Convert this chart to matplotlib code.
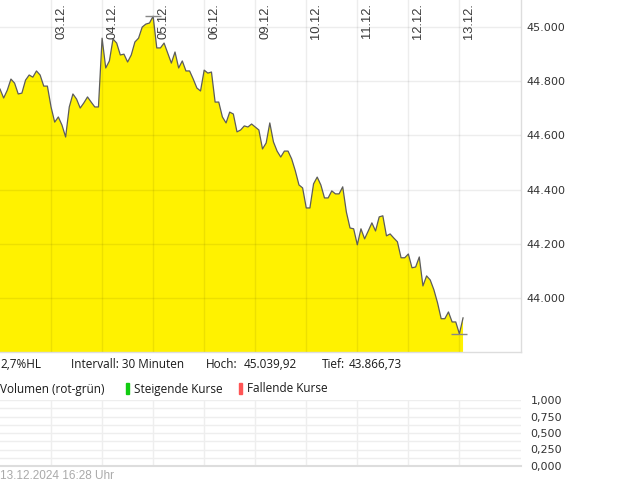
import numpy as np
import matplotlib
matplotlib.use('Agg')
import matplotlib.pyplot as plt
from matplotlib import transforms
from matplotlib.ticker import FuncFormatter, MultipleLocator

# 30-Minuten-Kurse, 14 Werte je Handelstag, ab 02.12.
kurs = [
    44771, 44738, 44767, 44808, 44793, 44753, 44756, 44804, 44823, 44815,
    44838, 44823, 44782, 44782, 44705, 44649, 44668, 44638, 44594, 44705,
    44753, 44734, 44701, 44720, 44742, 44723, 44705, 44705, 44959, 44849,
    44875, 44956, 44941, 44897, 44900, 44871, 44897, 44945, 44959, 45000,
    45011, 45015, 45040, 44923, 44923, 44941, 44904, 44867, 44908, 44849,
    44875, 44838, 44838, 44808, 44775, 44764, 44841, 44830, 44834, 44723,
    44723, 44668, 44646, 44686, 44679, 44613, 44620, 44635, 44631, 44642,
    44631, 44620, 44550, 44572, 44646, 44576, 44542, 44520, 44542, 44542,
    44513, 44469, 44417, 44406, 44332, 44332, 44421, 44446, 44417, 44369,
    44369, 44395, 44384, 44384, 44410, 44317, 44258, 44255, 44196, 44255,
    44218, 44247, 44277, 44247, 44299, 44303, 44229, 44236, 44221, 44207,
    44148, 44148, 44162, 44111, 44114, 44151, 44044, 44081, 44066, 44030,
    43982, 43923, 43923, 43948, 43911, 43911, 43867, 43926,
]
pro_tag = 14
tage = ['03.12.', '04.12.', '05.12.', '06.12.', '09.12.',
        '10.12.', '11.12.', '12.12.', '13.12.']
kurs_ticks = [44000, 44200, 44400, 44600, 44800, 45000]
vol_ticks = [0, 0.25, 0.5, 0.75, 1.0]

W, H = 620, 483
fig = plt.figure(figsize=(W / 100, H / 100), dpi=100)

def fx(px):
    return px / W

def fy(py):
    return 1 - py / H

x = np.arange(len(kurs))
tag_pos = [pro_tag * (i + 1) for i in range(len(tage))]
xmax = 521 / 3.646

# Kurschart
ax = fig.add_axes([0, fy(352), fx(521), 352 / H])
ax.fill_between(x, kurs, 43000, color='#fff200', lw=0, zorder=1)
ax.plot(x, kurs, color='#5c5c5c', lw=0.9, zorder=3)
i_hi = int(np.argmax(kurs))
i_lo = int(np.argmin(kurs))
for i in (i_hi, i_lo):
    ax.plot(x[i], kurs[i], marker='_', ms=11, mew=1, color='#888888', zorder=4)

ax.set_xlim(0, xmax)
ax.set_ylim(43800, 45100)
ax.set_yticks(kurs_ticks)
ax.set_xticks(tag_pos)
ax.set_axisbelow(False)
ax.grid(color='black', alpha=0.07, lw=1)
ax.yaxis.tick_right()
ax.yaxis.set_major_formatter(FuncFormatter(lambda v, p: f'{v:,.0f}'.replace(',', '.')))
ax.tick_params(axis='y', length=0, pad=4, labelsize=8, labelcolor='#333333')
ax.tick_params(axis='x', length=0, labelbottom=False)
for s in ['top', 'left']:
    ax.spines[s].set_visible(False)
for s in ['right', 'bottom']:
    ax.spines[s].set_color('#dddddd')
    ax.spines[s].set_linewidth(1)

trans = transforms.blended_transform_factory(ax.transData, ax.transAxes)
trans = transforms.offset_copy(trans, fig=fig, x=4, y=-3, units='dots')
for pos, lab in zip(tag_pos, tage):
    ax.text(pos, 1, lab, transform=trans, rotation=90, ha='left', va='top',
            fontsize=9.3, family='Liberation Sans', color='#3a3a3a')

# Infozeile
info = [(0, '2,7%HL'), (71, 'Intervall: 30 Minuten'), (206, 'Hoch:'),
        (244, '45.039,92'), (322, 'Tief:'), (349, '43.866,73')]
for px, t in info:
    fig.text(fx(px), fy(364), t, va='center', ha='left', fontsize=8.5,
             family='Open Sans', color='#1a1a1a')

# Legende Volumen
fig.text(0, fy(389), 'Volumen (rot-grün)', va='center', fontsize=8.5,
         family='Open Sans', color='#1a1a1a')
fig.patches.append(plt.Rectangle((fx(126), fy(394)), fx(3), 11 / H,
                                 transform=fig.transFigure, color='#11cc11'))
fig.text(fx(134), fy(389), 'Steigende Kurse', va='center', fontsize=8.5,
         family='Open Sans', color='#1a1a1a')
fig.patches.append(plt.Rectangle((fx(239), fy(394)), fx(3), 11 / H,
                                 transform=fig.transFigure, color='#ff5555'))
fig.text(fx(247), fy(389), 'Fallende Kurse', va='center', fontsize=8.5,
         family='Open Sans', color='#1a1a1a')

# Volumenchart (leer)
vax = fig.add_axes([0, fy(466), fx(521), 66 / H])
vax.set_xlim(0, xmax)
vax.set_ylim(0, 1)
vax.set_yticks(vol_ticks)
vax.yaxis.set_minor_locator(MultipleLocator(0.125))
vax.set_xticks(tag_pos)
vax.grid(which='both', color='#eeeeee', lw=1)
vax.yaxis.tick_right()
vax.yaxis.set_major_formatter(FuncFormatter(lambda v, p: f'{v:.3f}'.replace('.', ',')))
vax.tick_params(axis='y', which='both', length=0, pad=7, labelsize=8, labelcolor='#333333')
vax.tick_params(axis='x', length=0, labelbottom=False)
for s in ['top', 'left', 'right']:
    vax.spines[s].set_visible(False)
vax.spines['bottom'].set_color('#dddddd')
vax.spines['bottom'].set_linewidth(1.5)

fig.text(0, fy(476), '13.12.2024 16:28 Uhr', va='center', fontsize=8.5,
         family='Liberation Sans', color='#aaaaaa')

fig.savefig('out.png', dpi=100)
